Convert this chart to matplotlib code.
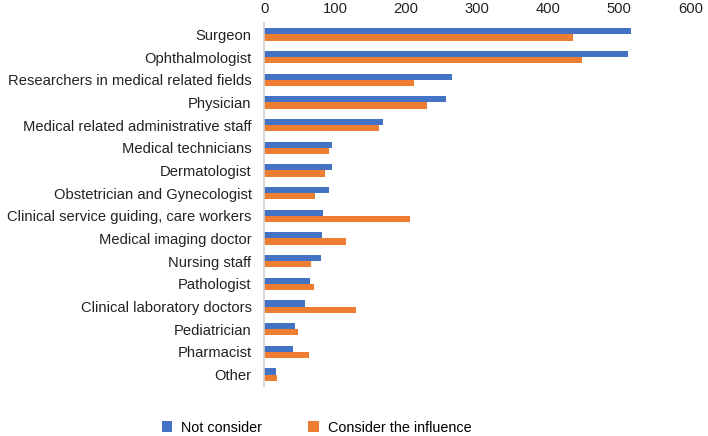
import matplotlib.pyplot as plt
import numpy as np

plt.rcParams['font.family'] = ['Liberation Sans', 'DejaVu Sans']

categorie = ["Surgeon", "Ophthalmologist", "Researchers in medical related fields",
             "Physician", "Medical related administrative staff", "Medical technicians",
             "Dermatologist", "Obstetrician and Gynecologist",
             "Clinical service guiding, care workers", "Medical imaging doctor",
             "Nursing staff", "Pathologist", "Clinical laboratory doctors",
             "Pediatrician", "Pharmacist", "Other"]
non_considera = [516, 513, 264, 256, 167, 95, 95, 92, 83, 82, 80, 65, 57, 44, 41, 17]
considera = [435, 447, 211, 229, 162, 92, 86, 71, 205, 116, 66, 70, 130, 48, 63, 18]

fig = plt.figure(figsize=(7.08, 4.36), dpi=100)
ax = fig.add_axes([0.373, 0.115, 0.602, 0.832])

y = np.arange(len(categorie))
h = 0.27
ax.barh(y - h/2, non_considera, height=h, color="#4472C4", label="Not consider")
ax.barh(y + h/2, considera, height=h, color="#ED7D31", label="Consider the influence")

ax.set_xlim(0, 600)
ax.set_ylim(len(categorie) - 0.5, -0.5)
ax.set_yticks(y)
ax.set_yticklabels(categorie, fontsize=10.6, color="#222222")
ax.set_xticks(range(0, 601, 100))
ax.xaxis.tick_top()
ax.tick_params(axis="x", length=0, labelsize=10.6, pad=5, colors="#222222")
ax.tick_params(axis="y", length=0, pad=9)

for s in ["top", "right", "bottom"]:
    ax.spines[s].set_visible(False)
ax.spines["left"].set_color("#d0d0d0")
ax.spines["left"].set_linewidth(1.2)

fig.legend(loc="lower center", bbox_to_anchor=(0.447, -0.027), ncol=2, frameon=False,
           fontsize=10.4, handlelength=0.75, handleheight=0.75, columnspacing=3.2,
           handletextpad=0.6)

fig.savefig("out.png", dpi=100)
